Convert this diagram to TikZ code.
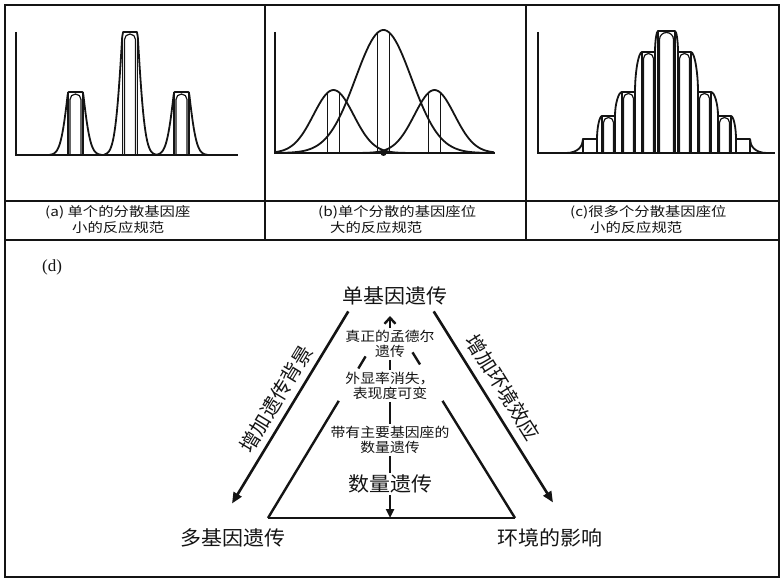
\documentclass[tikz,border=0pt]{standalone}
\usepackage{fontspec}
\usepackage{tikz}
\usetikzlibrary{
  arrows.meta,
  positioning,
  calc
}
\newfontfamily\gnzh{Noto Sans CJK SC}
\newfontfamily\gnzhbig{Noto Sans CJK SC}[FakeStretch=1.05]
\newfontfamily\gnzhmid{Noto Sans CJK SC}[FakeStretch=1.1]
\newfontfamily\gnzhwide{Noto Sans CJK SC}[FakeStretch=1.18]
\newfontfamily\gnserif{Liberation Serif}
\definecolor{gnInk}{HTML}{141414}
\tikzset{
  gnframe/.style={line width=2.2pt, draw=gnInk},
  gnaxis/.style={line width=1.8pt, draw=gnInk},
  gncurve/.style={line width=1.8pt, draw=gnInk, line join=round},
  gnthin/.style={line width=1.2pt, draw=gnInk},
  gnedge/.style={line width=2.4pt, draw=gnInk},
  gnup/.style={gnedge, -{Straight Barb[length=6pt, width=11pt]}},
  gndown/.style={gnedge, -{Triangle[length=9pt, width=8pt]}},
  gnfwd/.style={line width=2.6pt, draw=gnInk, -{Triangle[length=11pt, width=9pt]}},
  gnback/.style={line width=2.6pt, draw=gnInk, {Triangle[length=11pt, width=9pt]}-},
  gncap/.style={font=\gnzhwide\fontsize{13}{15}\selectfont, anchor=west, inner sep=0pt, text=gnInk},
  gntag/.style={font=\gnserif\fontsize{17}{19}\selectfont, inner sep=0pt, text=gnInk},
  gnbig/.style={font=\gnzhbig\fontsize{20}{22}\selectfont, inner sep=2pt, text=gnInk},
  gnsmall/.style={font=\gnzhmid\fontsize{13.5}{15}\selectfont, align=center, inner sep=2pt, text=gnInk},
  gnside/.style={font=\gnzh\fontsize{20}{22}\selectfont, inner sep=2pt, text=gnInk}
}
\begin{document}
\begin{tikzpicture}[x=1pt, y=-1pt]
  \useasboundingbox (0,0) rectangle (781,580);
  \draw[gnframe] (5,5) rectangle (779,577);
  \draw[gnframe] (5,201) -- (779,201);
  \draw[gnframe] (5,240) -- (779,240);
  \draw[gnframe] (265,5) -- (265,240);
  \draw[gnframe] (526,5) -- (526,240);

  \draw[gnaxis] (16,32) -- (16,155) -- (238,155);
  \foreach \cx/\pk in {75.5/92, 130/32, 181.5/92} {
    \pgfmathsetmacro\amp{155-\pk}
    \pgfmathsetmacro\lo{\cx-26}
    \pgfmathsetmacro\hi{\cx+26}
    \draw[gncurve] plot[domain=\lo:\hi, samples=61] (\x, {155-min(\amp, 1.67*\amp*exp(-(\x-\cx)*(\x-\cx)/110))});
    \draw[gncurve] (\cx-7.5,155) -- (\cx-7.5,\pk) (\cx+7.5,155) -- (\cx+7.5,\pk);
    \draw[gnthin] (\cx-5.5,155) -- (\cx-5.5,\pk+7.5) arc[start angle=180, end angle=0, radius=5.5pt] -- (\cx+5.5,155);
  }

  \draw[gnaxis] (275,32) -- (275,153) -- (495,153);
  \foreach \cx/\amp/\sg in {333.5/63/20, 383.5/123/28, 434.5/63/20} {
    \draw[gncurve] plot[domain=276:494, samples=111] (\x, {153-\amp*exp(max(-9, -0.5*((\x-\cx)/\sg)*((\x-\cx)/\sg)))});
    \foreach \dx in {-6,6} {
      \pgfmathsetmacro\yy{153-\amp*exp(-0.5*(\dx/\sg)*(\dx/\sg))}
      \draw[gncurve] (\cx+\dx,153) -- (\cx+\dx,\yy);
    }
  }
  \fill[gnInk] (383.5,153) circle[radius=3pt];

  \draw[gnaxis] (538,32) -- (538,153) -- (775,153);
  \draw[gncurve] (566,153) .. controls (578,153) and (583,146) .. (583,139);
  \draw[gncurve] (750,139) .. controls (750,146) and (755,153) .. (767,153);
  \foreach \l/\r/\pk in {583/597/139, 736/750/139} {
    \draw[gncurve] (\l,153) -- (\l,\pk) -- (\r,\pk) -- (\r,153);
  }
  \foreach \l/\r/\pk in {602/615/116, 622/635/92, 642/655/52, 658/675/31, 678/691/52, 698/711/92, 718/731/116} {
    \pgfmathsetmacro\rad{(\r-\l)/2-1.5}
    \draw[gncurve] (\l,153) -- (\l,\pk) -- (\r,\pk) -- (\r,153);
    \draw[gnthin] (\l+1.5,153) -- (\l+1.5,\pk+\rad+1.5) arc[start angle=180, end angle=0, radius=\rad pt] -- (\r-1.5,153);
  }
  \foreach \xa/\ya/\xb/\yb in {597/139/602/116, 615/116/622/92, 635/92/642/52, 655/52/658/31} {
    \draw[gncurve] (\xa,\ya) .. controls (\xa,{(\ya+\yb)/2}) and ({(\xa+\xb)/2},\yb) .. (\xb,\yb);
  }
  \foreach \xa/\ya/\xb/\yb in {675/31/678/52, 691/52/698/92, 711/92/718/116, 731/116/736/139} {
    \draw[gncurve] (\xa,\ya) .. controls ({(\xa+\xb)/2},\ya) and (\xb,{(\ya+\yb)/2}) .. (\xb,\yb);
  }

  \node[gncap] (capa1) at (45,212) {(a) 单个的分散基因座};
  \node[gncap] (capa2) at (72,228) {小的反应规范};
  \node[gncap] (capb1) at (318,212) {(b)单个分散的基因座位};
  \node[gncap] (capb2) at (330,228) {大的反应规范};
  \node[gncap] (capc1) at (570,212) {(c)很多个分散基因座位};
  \node[gncap] (capc2) at (590,228) {小的反应规范};

  \node[gntag] (tagd) at (52,267) {(d)};
  \node[gnbig] (single) at (395,296) {单基因遗传};
  \node[gnbig] (poly) at (233,538) {多基因遗传};
  \node[gnbig] (env) at (550,538) {环境的影响};
  \node[gnsmall] (mendel) at (390,344) {真正的孟德尔\\遗传};
  \node[gnsmall] (penet) at (390,386) {外显率消失，\\表现度可变};
  \node[gnsmall] (major) at (390,440) {带有主要基因座的\\数量遗传};
  \node[gnbig] (quant) at (390,484) {数量遗传};
  \coordinate (apex) at (390,316);
  \coordinate (bl) at (268,518);
  \coordinate (br) at (515,518);
  \coordinate (bm) at (390,518);

  \draw[gnedge] (bl) -- (br);
  \draw[gnedge] (bl) -- ($(bl)!0.58!(apex)$);
  \draw[gnedge] ($(bl)!0.74!(apex)$) -- ($(bl)!0.80!(apex)$);
  \draw[gnedge] (br) -- ($(br)!0.58!(apex)$);
  \draw[gnedge] ($(br)!0.76!(apex)$) -- ($(br)!0.82!(apex)$);
  \draw[gnup] (mendel) -- (apex);
  \draw[gnedge] (mendel) -- (penet);
  \draw[gnedge] (penet) -- (major);
  \draw[gnedge] (major) -- (quant);
  \draw[gndown] (quant) -- (bm);

  \draw[gnback] ($(poly.north)+(-1,-23)$) -- ($(single.south west)+(8,4)$)
    node[midway, sloped, above=4pt, gnside] {增加遗传背景};
  \draw[gnfwd] ($(single.south east)+(-16,4)$) -- ($(env.north)+(3,-24)$)
    node[pos=0.45, sloped, above=6pt, gnside] {增加环境效应};
\end{tikzpicture}
\end{document}
